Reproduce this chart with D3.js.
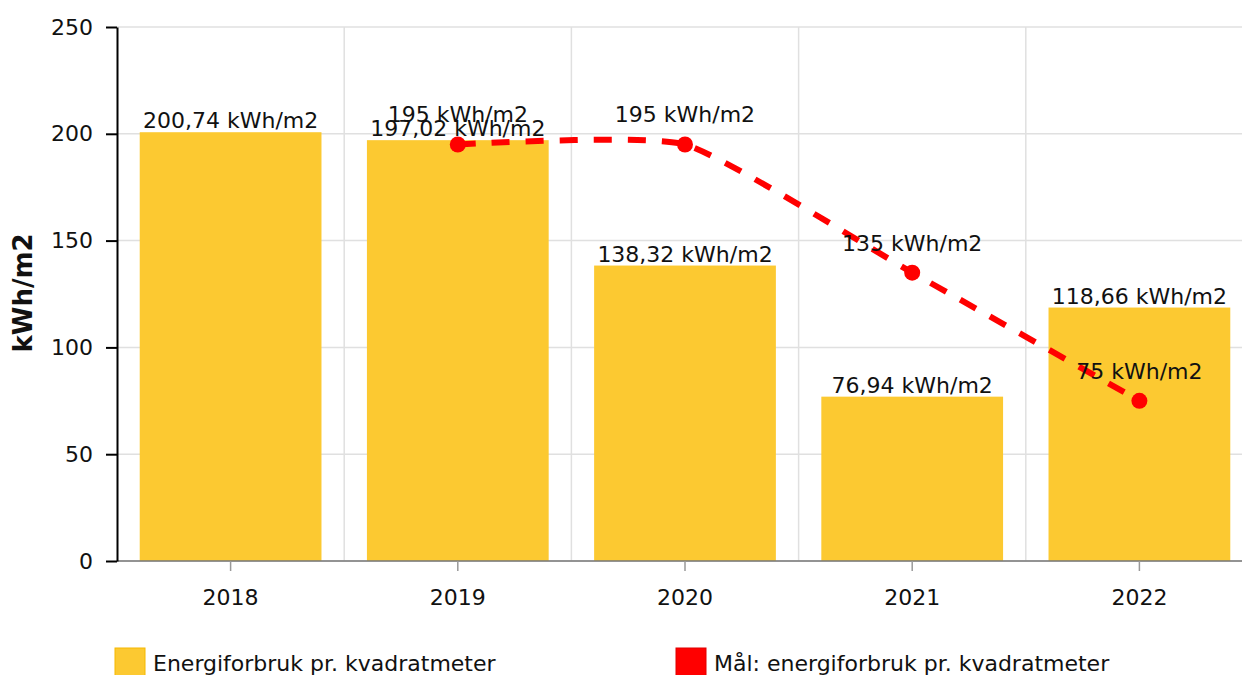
<!DOCTYPE html>
<html>
<head>
<meta charset="utf-8">
<script src="https://cdn.jsdelivr.net/npm/d3@7"></script>
<style>
  body { margin: 0; background: #fff; }
  svg { display: block; font-family: "DejaVu Sans", Verdana, sans-serif; }
</style>
</head>
<body>
<svg id="chart"></svg>
<script>
var years = ["2018", "2019", "2020", "2021", "2022"];
var usage = [200.74, 197.02, 138.32, 76.94, 118.66];
var targetYears = ["2019", "2020", "2021", "2022"];
var targets = [195, 195, 135, 75];
var yTicks = [0, 50, 100, 150, 200, 250];
var seriesNames = ["Energiforbruk pr. kvadratmeter", "Mål: energiforbruk pr. kvadratmeter"];

var W = 1242, H = 675;
var margin = { top: 27, left: 117, bottom: 114 };
var plotBottom = H - margin.bottom; // 561
var stepW = 227.2;
var fs = 22;

var svg = d3.select("#chart").attr("width", W).attr("height", H);

var x = d3.scaleBand()
  .domain(years)
  .range([margin.left, margin.left + stepW * years.length])
  .paddingInner(0.2)
  .paddingOuter(0.1);

var y = d3.scaleLinear().domain([0, 250]).range([plotBottom, margin.top]);

var fmt = function(v) { return String(v).replace(".", ",") + " kWh/m2"; };

// grid
svg.append("g").selectAll("line.h")
  .data(yTicks).enter().append("line")
  .attr("x1", margin.left).attr("x2", W)
  .attr("y1", function(d) { return y(d); }).attr("y2", function(d) { return y(d); })
  .attr("stroke", "#e0e0e0").attr("stroke-width", 1.5);

svg.append("g").selectAll("line.v")
  .data(years.slice(1)).enter().append("line")
  .attr("x1", function(d) { return x(d) - x.step() * x.paddingInner() / 2; })
  .attr("x2", function(d) { return x(d) - x.step() * x.paddingInner() / 2; })
  .attr("y1", margin.top).attr("y2", plotBottom)
  .attr("stroke", "#e0e0e0").attr("stroke-width", 1.5);

// bars
svg.append("g").selectAll("rect")
  .data(years).enter().append("rect")
  .attr("x", function(d) { return x(d); })
  .attr("width", x.bandwidth())
  .attr("y", function(d, i) { return y(usage[i]); })
  .attr("height", function(d, i) { return plotBottom - y(usage[i]); })
  .attr("fill", "#fcc931");

// x axis
var xAxis = svg.append("g")
  .attr("transform", "translate(0," + plotBottom + ")")
  .call(d3.axisBottom(x).tickSize(10).tickPadding(18).tickSizeOuter(0));
xAxis.select(".domain").attr("stroke", "#777").attr("stroke-width", 1.5)
  .attr("d", "M" + margin.left + ",0H" + W);
xAxis.selectAll(".tick line").attr("stroke", "#999").attr("stroke-width", 1.5);
xAxis.selectAll(".tick text").attr("font-size", fs).attr("fill", "#111")
  .style("font-family", "DejaVu Sans");

// y axis
var yAxis = svg.append("g")
  .attr("transform", "translate(" + margin.left + ",0)")
  .call(d3.axisLeft(y).tickValues(yTicks).tickSize(11).tickPadding(13).tickSizeOuter(0));
yAxis.select(".domain").attr("stroke", "#000").attr("stroke-width", 2);
yAxis.selectAll(".tick line").attr("stroke", "#000").attr("stroke-width", 2);
yAxis.selectAll(".tick text").attr("font-size", fs).attr("fill", "#111")
  .style("font-family", "DejaVu Sans");

svg.append("text")
  .attr("transform", "translate(32," + 293 + ") rotate(-90)")
  .attr("text-anchor", "middle")
  .attr("font-size", 26).attr("font-weight", "bold").attr("fill", "#111")
  .text("kWh/m2");

// bar labels
svg.append("g").selectAll("text")
  .data(years).enter().append("text")
  .attr("x", function(d) { return x(d) + x.bandwidth() / 2; })
  .attr("y", function(d, i) { return y(usage[i]) - 4; })
  .attr("text-anchor", "middle")
  .attr("font-size", fs).attr("fill", "#111")
  .text(function(d, i) { return fmt(usage[i]); });

// target line
var cx = function(d) { return x(d) + x.bandwidth() / 2; };
var line = d3.line()
  .x(function(d, i) { return cx(d); })
  .y(function(d, i) { return y(targets[i]); })
  .curve(d3.curveCardinal.tension(0.5));

svg.append("path")
  .datum(targetYears)
  .attr("d", line)
  .attr("fill", "none")
  .attr("stroke", "#ff0000")
  .attr("stroke-width", 6)
  .attr("stroke-dasharray", "18,16");

svg.append("g").selectAll("circle")
  .data(targetYears).enter().append("circle")
  .attr("cx", cx)
  .attr("cy", function(d, i) { return y(targets[i]); })
  .attr("r", 8)
  .attr("fill", "#ff0000");

svg.append("g").selectAll("text")
  .data(targetYears).enter().append("text")
  .attr("x", cx)
  .attr("y", function(d, i) { return y(targets[i]) - 22; })
  .attr("text-anchor", "middle")
  .attr("font-size", fs).attr("fill", "#111")
  .text(function(d, i) { return fmt(targets[i]); });

// legend
var legendX = [115, 676];
var legendColors = ["#fcc931", "#ff0000"];
var lg = svg.append("g").selectAll("g")
  .data(seriesNames).enter().append("g");
lg.append("rect")
  .attr("x", function(d, i) { return legendX[i]; })
  .attr("y", 648).attr("width", 30).attr("height", 30)
  .attr("fill", function(d, i) { return legendColors[i]; })
  .attr("stroke", function(d, i) { return i === 0 ? "#f5b800" : "#e00000"; })
  .attr("stroke-width", 1);
lg.append("text")
  .attr("x", function(d, i) { return legendX[i] + 38; })
  .attr("y", 671)
  .attr("font-size", fs).attr("fill", "#111")
  .text(function(d) { return d; });
</script>
</body>
</html>
